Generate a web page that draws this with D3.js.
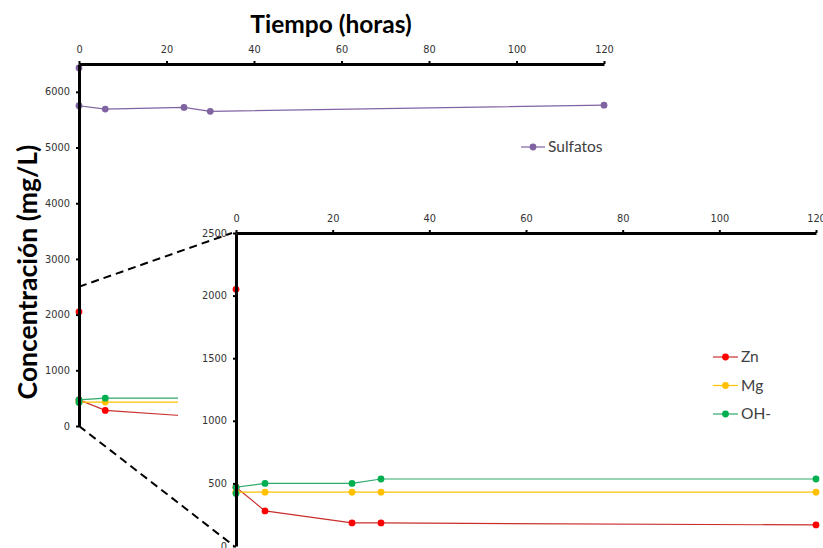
<!DOCTYPE html>
<html>
<head>
<meta charset="utf-8">
<script src="https://cdn.jsdelivr.net/npm/d3@7"></script>
<style>
  body { margin: 0; background: #fff; }
  svg { display: block; }
  .tick text { font-family: "DejaVu Sans", Verdana, sans-serif; font-size: 9.8px; fill: #333; }
</style>
</head>
<body>
<svg id="chart" width="823" height="548"></svg>
<script>
// tiempo (horas) de cada muestreo; t=0 aparece dos veces (inicial y tras mezcla)
var horas = [0, 0, 6, 24, 30, 120];
var sulfatos = [6430, 5750, 5690, 5720, 5650, 5760];
var zn = [2050, 470, 280, 184, 184, 168];
var mg = [430, 430, 430, 430, 430, 430];
var oh = [420, 470, 500, 500, 535, 535];

var xTicks = [0, 20, 40, 60, 80, 100, 120];
var yTicksMain = [0, 1000, 2000, 3000, 4000, 5000, 6000];
var yTicksInset = [0, 500, 1000, 1500, 2000, 2500];

var series = [
  { name: 'Zn', values: zn, color: '#ff0000', line: '#c8302e' },
  { name: 'Mg', values: mg, color: '#ffc000', line: '#ffc000' },
  { name: 'OH-', values: oh, color: '#00b050', line: '#2eaa6a' }
];

var svg = d3.select('#chart');
var fmt = d3.format('d');

// escalas del grafico principal
var x = d3.scaleLinear().domain([0, 120]).range([79, 604]);
var y = d3.scaleLinear().domain([0, 6500]).range([426, 64]);

// escalas del recuadro ampliado
var x2 = d3.scaleLinear().domain([0, 120]).range([236, 816]);
var y2 = d3.scaleLinear().domain([0, 2500]).range([546, 233]);

function pts(vals) {
  return vals.map(function(v, i) { return [horas[i], v]; });
}

function drawSeries(g, sx, sy, vals, lineColor, dotColor) {
  var line = d3.line().x(function(d) { return sx(d[0]); }).y(function(d) { return sy(d[1]); });
  g.append('path')
    .attr('d', line(pts(vals)))
    .attr('fill', 'none')
    .attr('stroke', lineColor)
    .attr('stroke-width', 1.2);
  g.selectAll(null).data(pts(vals)).enter().append('circle')
    .attr('cx', function(d) { return sx(d[0]); })
    .attr('cy', function(d) { return sy(d[1]); })
    .attr('r', 3.4)
    .attr('fill', dotColor);
}

function styleAxis(g) {
  g.select('.domain').attr('stroke', '#000').attr('stroke-width', 3);
  g.selectAll('.tick line').attr('stroke', '#000').attr('stroke-width', 2);
}

// ---- grafico principal ----
var main = svg.append('g');

series.forEach(function(s) {
  drawSeries(main, x, y, s.values, s.line, s.color);
});
drawSeries(main, x, y, sulfatos, '#8064a2', '#8064a2');

main.append('g')
  .attr('transform', 'translate(0,' + y(6500) + ')')
  .call(d3.axisTop(x).tickValues(xTicks).tickFormat(fmt).tickSize(3).tickSizeOuter(0).tickPadding(8))
  .call(styleAxis);

main.append('g')
  .attr('transform', 'translate(' + x(0) + ',0)')
  .call(d3.axisLeft(y).tickValues(yTicksMain).tickFormat(fmt).tickSize(3).tickSizeOuter(0).tickPadding(6))
  .call(styleAxis);

// leyenda sulfatos
var legS = main.append('g').attr('transform', 'translate(521,147)');
legS.append('line').attr('x1', 0).attr('x2', 24).attr('stroke', '#8064a2').attr('stroke-width', 1.2);
legS.append('circle').attr('cx', 12).attr('r', 3.4).attr('fill', '#8064a2');
legS.append('text').attr('x', 27).attr('dy', '0.35em')
  .attr('font-family', 'Lato, sans-serif').attr('font-size', 15.5).attr('fill', '#404040')
  .text('Sulfatos');

// titulos
svg.append('text')
  .attr('x', 331).attr('y', 33)
  .attr('text-anchor', 'middle')
  .attr('font-family', 'Lato, sans-serif').attr('font-weight', 'bold').attr('font-size', 24.5)
  .attr('fill', '#000')
  .text('Tiempo (horas)');

svg.append('text')
  .attr('transform', 'translate(37,272) rotate(-90)')
  .attr('text-anchor', 'middle')
  .attr('font-family', 'Lato, sans-serif').attr('font-weight', 'bold').attr('font-size', 26.5)
  .attr('fill', '#000')
  .text('Concentración (mg/L)');

// ---- recuadro ampliado ----
var inset = svg.append('g');
inset.append('rect')
  .attr('x', 178).attr('y', 198).attr('width', 645).attr('height', 350)
  .attr('fill', '#fff');

series.forEach(function(s) {
  drawSeries(inset, x2, y2, s.values, s.line, s.color);
});

inset.append('g')
  .attr('transform', 'translate(0,' + y2(2500) + ')')
  .call(d3.axisTop(x2).tickValues(xTicks).tickFormat(fmt).tickSize(3).tickSizeOuter(0).tickPadding(8))
  .call(styleAxis);

inset.append('g')
  .attr('transform', 'translate(' + x2(0) + ',0)')
  .call(d3.axisLeft(y2).tickValues(yTicksInset).tickFormat(fmt).tickSize(3).tickSizeOuter(0).tickPadding(6))
  .call(styleAxis);

// leyenda recuadro
var leg = inset.selectAll('.leg').data(series).enter().append('g')
  .attr('transform', function(d, i) { return 'translate(713,' + (357 + i * 28.5) + ')'; });
leg.append('line').attr('x1', 0).attr('x2', 25)
  .attr('stroke', function(d) { return d.line; }).attr('stroke-width', 1.2);
leg.append('circle').attr('cx', 12.5).attr('r', 3.4).attr('fill', function(d) { return d.color; });
leg.append('text').attr('x', 28).attr('dy', '0.35em')
  .attr('font-family', 'Lato, sans-serif').attr('font-size', 15.5).attr('fill', '#404040')
  .text(function(d) { return d.name; });

// lineas discontinuas de ampliacion
svg.append('line')
  .attr('x1', x(0)).attr('y1', y(2500)).attr('x2', x2(0) - 4).attr('y2', y2(2500))
  .attr('stroke', '#000').attr('stroke-width', 2).attr('stroke-dasharray', '8,5');
svg.append('line')
  .attr('x1', x(0)).attr('y1', y(0)).attr('x2', x2(0) - 2).attr('y2', y2(0))
  .attr('stroke', '#000').attr('stroke-width', 2).attr('stroke-dasharray', '8,5');
</script>
</body>
</html>
